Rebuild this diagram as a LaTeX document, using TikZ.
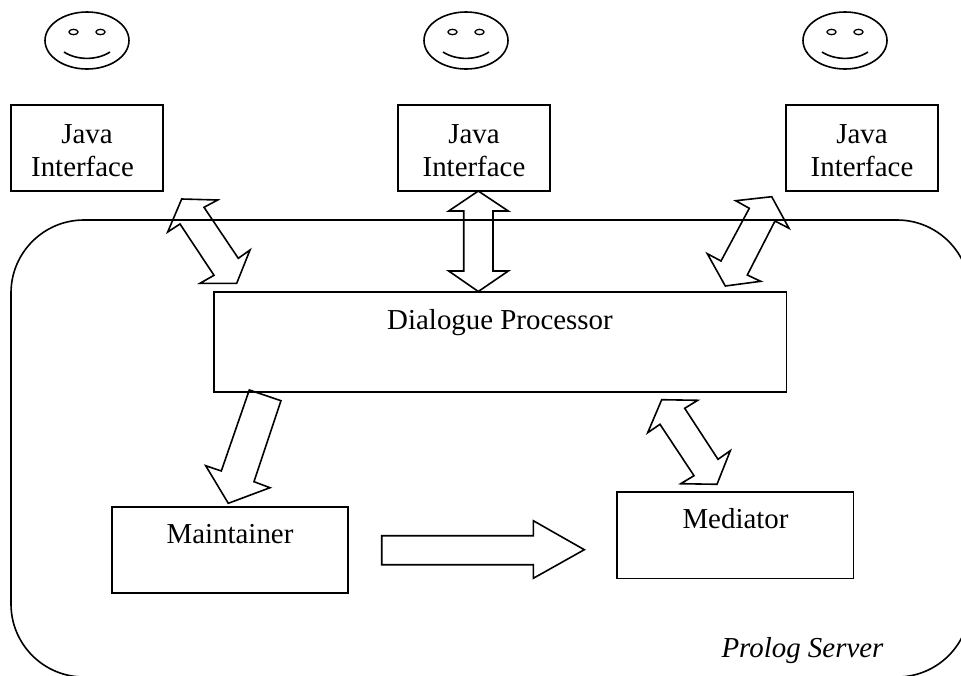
\documentclass[tikz,border=0pt]{standalone}
\usepackage{fontspec}
\setmainfont{Liberation Serif}
\tikzset{
  boxnode/.style={draw=black,inner sep=0pt,outer sep=0pt},
  framenode/.style={draw=black,inner sep=0pt,outer sep=0pt,rounded corners=73pt,minimum width=959pt,minimum height=457pt},
  lbl/.style={inner sep=0pt,outer sep=0pt,align=center,font=\fontsize{28.9}{33.6}\selectfont,text=black},
  itlbl/.style={lbl,font=\fontsize{28.9}{33.6}\selectfont\itshape},
  blockarrow/.style={draw=black,line join=miter,miter limit=10},
  face/.pic={
    \draw (0,0) ellipse [x radius=42,y radius=28.5];
    \draw[line width=1.3pt] (-13.5,-8.5) ellipse [x radius=4.5,y radius=2.7];
    \draw[line width=1.3pt] (13.5,-8.5) ellipse [x radius=4.5,y radius=2.7];
    \draw (-23,11.5) .. controls (-10,20) and (10,20) .. (23,11.5);
  }
}
\begin{document}
\begin{tikzpicture}[x=1pt,y=-1pt,line width=1.6pt]
\clip (0,0) rectangle (961,675);
\fill[white] (0,0) rectangle (961,675);

\node[framenode] (server) at (490.5,448.5) {};

\pic at (87,40.5) {face};
\pic at (466,40.5) {face};
\pic at (845,40.5) {face};

\node[boxnode,minimum width=152pt,minimum height=86pt] (j1) at (87,148) {};
\node[boxnode,minimum width=152pt,minimum height=86pt] (j2) at (474,148) {};
\node[boxnode,minimum width=152pt,minimum height=86pt] (j3) at (862,148) {};
\node[boxnode,minimum width=572.5pt,minimum height=100pt] (dp) at (500.2,342) {};
\node[boxnode,minimum width=236pt,minimum height=86pt] (mt) at (230,549.7) {};
\node[boxnode,minimum width=236.5pt,minimum height=86.7pt] (md) at (735.2,535.3) {};

\node[lbl] (tj1) at (82.5,150.5) {\hspace*{9pt}Java\\Interface};
\node[lbl] (tj2) at (474,150.5) {Java\\Interface};
\node[lbl] (tj3) at (862,150.5) {Java\\Interface};
\node[lbl,anchor=base] (tdp) at (500,329) {Dialogue Processor};
\node[lbl,anchor=base] (tmt) at (230,543) {Maintainer};
\node[lbl,anchor=base] (tmd) at (735.5,528) {Mediator};
\node[itlbl,anchor=base] (tps) at (802.5,657.7) {Prolog Server};

% arrow 1: upper-left Java interface <-> dialogue processor
\draw[blockarrow] (181.7,199) -- (217.7,200) -- (204,207.3) -- (238.3,258.3) -- (250,250) -- (236.7,283.3) -- (200,283.3) -- (214,275.3) -- (180,224) -- (167.7,232) -- cycle;
% arrow 2: centre
\draw[blockarrow] (478.3,191) -- (508.3,211) -- (493,211) -- (493,271) -- (508.3,271) -- (478.3,291.5) -- (448.7,271) -- (463.7,271) -- (463.7,211) -- (448.7,211) -- cycle;
% arrow 3: right
\draw[blockarrow] (771.7,196.7) -- (789,228.3) -- (775,221) -- (747.3,275) -- (760.7,281.3) -- (725.3,286) -- (707.3,253.7) -- (721,261) -- (749.3,208.3) -- (735.7,200.7) -- cycle;
% arrow 4: dialogue processor -> maintainer
\draw[blockarrow] (249.3,390) -- (281,400.7) -- (254,481.7) -- (270,487.7) -- (228.3,503.3) -- (205.7,465.7) -- (221.3,471) -- cycle;
% arrow 5: maintainer -> mediator
\draw[blockarrow] (381.7,535.7) -- (533.3,535.7) -- (533.3,520.7) -- (584.3,549.7) -- (533.3,578.3) -- (533.3,564.7) -- (381.7,564.7) -- cycle;
% arrow 6: dialogue processor <-> mediator
\draw[blockarrow] (661.7,399.7) -- (697.7,400.3) -- (684.7,408.3) -- (718,459.3) -- (730.3,450.7) -- (717,484.3) -- (680.7,483.7) -- (694,475.7) -- (660,424.3) -- (647.7,432.7) -- cycle;
\end{tikzpicture}
\end{document}
